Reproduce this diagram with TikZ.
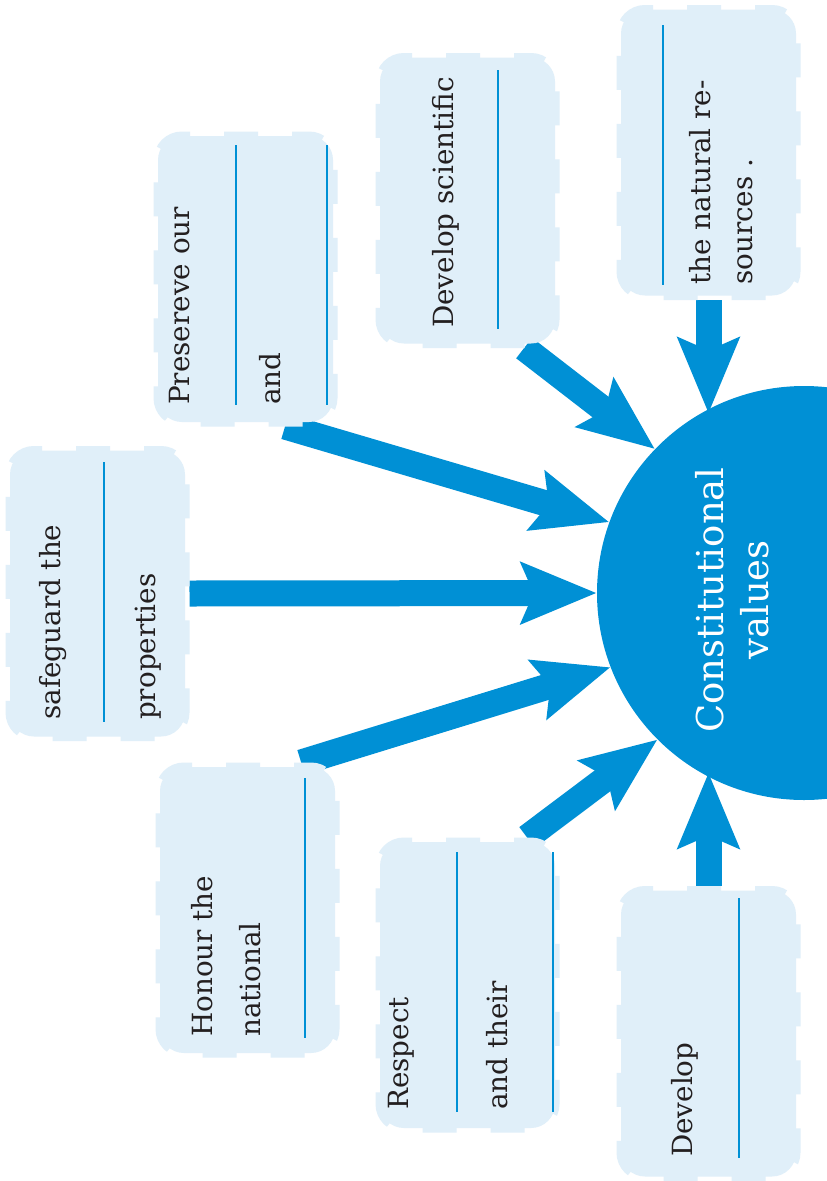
\documentclass[tikz,border=0pt]{standalone}
\usepackage{fontspec}
\setmainfont{DejaVu Serif}
\usetikzlibrary{arrows.meta,backgrounds}
\definecolor{cvblue}{RGB}{0,144,213}
\definecolor{boxblue}{RGB}{224,239,249}
\definecolor{inkgray}{RGB}{35,31,32}

\begin{document}
\begin{tikzpicture}[x=1pt, y=-1pt,
  card/.style={fill=boxblue, draw=boxblue, line width=9pt,
    dash pattern=on 34pt off 34pt, dash phase=17pt,
    rounded corners=24pt, minimum width=175pt, minimum height=286pt,
    inner sep=0pt},
  txt/.style={rotate=90, anchor=base west, text=inkgray, inner sep=0pt,
    font=\fontsize{27.8}{32}\selectfont},
  blank/.style={draw=cvblue, line width=2.2pt},
  arr/.style={-{Stealth[length=75pt, width=60pt, inset=12pt]},
    draw=cvblue, line width=26pt},
  hub/.style={circle, fill=cvblue, minimum size=414pt, inner sep=0pt},
  hubtxt/.style={rotate=90, anchor=base, text=white, inner sep=0pt,
    font=\fontsize{37}{42}\selectfont},
]
\useasboundingbox (0,0) rectangle (827,1181);
\clip (0,0) rectangle (827,1181);

% centre circle
\node[hub] (cv) at (804,593) {};
\node[hubtxt] (cv1) at (723,600) {Constitutional};
\node[hubtxt] (cv2) at (768,600) {values};

% the seven cards
\node[card] (sg) at (97.5,593.5) {};
\node[card] (pr) at (245.5,279) {};
\node[card] (ds) at (467.5,200.5) {};
\node[card] (nr) at (708.5,152.5) {};
\node[card] (ho) at (247.5,910) {};
\node[card] (rs) at (467.5,985) {};
\node[card] (dv) at (708.5,1033.5) {};

% texts and blanks
\node[txt] (sg1) at (60,720) {safeguard the};
\node[txt] (sg2) at (155,720) {properties};
\draw[blank] (104,462) -- (104,722);

\node[txt] (pr1) at (189,405) {Presereve our};
\node[txt] (pr2) at (280,405) {and};
\draw[blank] (236,145) -- (236,405);
\draw[blank] (327,145) -- (327,405);

\node[txt] (ds1) at (453,328) {Develop scientific};
\draw[blank] (498,70) -- (498,329);

\node[txt] (nr1) at (710,285) {the natural re-};
\node[txt] (nr2) at (752,285) {sources .};
\draw[blank] (663,25) -- (663,285);

\node[txt] (ho1) at (212,1037) {Honour the};
\node[txt] (ho2) at (260,1037) {national};
\draw[blank] (305,778) -- (305,1038);

\node[txt] (rs1) at (408,1110) {Respect};
\node[txt] (rs2) at (507,1110) {and their};
\draw[blank] (457,852) -- (457,1112);
\draw[blank] (553,852) -- (553,1112);

\node[txt] (dv1) at (692,1157) {Develop};
\draw[blank] (739,898) -- (739,1158);

% arrows into the circle
\begin{scope}[on background layer]
\fill[white] (0,0) rectangle (827,1181);
\draw[arr] (sg.east) -- (cv.180);
\draw[arr] (pr.-75) -- (cv.160);
\draw[arr] (ds.-69) -- (cv.136);
\draw[arr] (nr.south) -- (nr.south |- cv.120);
\draw[arr] (ho.70) -- (cv.201);
\draw[arr] (rs.68) -- (cv.225);
\draw[arr] (dv.north) -- (dv.north |- cv.240);
\end{scope}

\end{tikzpicture}
\end{document}
